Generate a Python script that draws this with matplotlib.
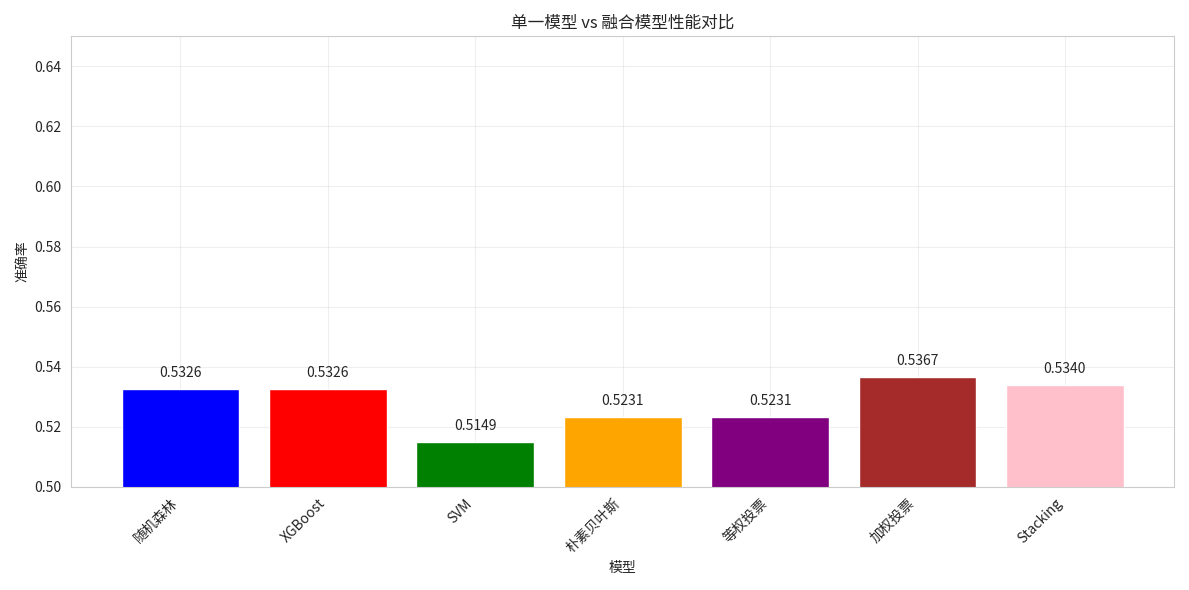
import matplotlib
matplotlib.use("Agg")
import matplotlib.pyplot as plt
import seaborn as sns

models = ["随机森林", "XGBoost", "SVM", "朴素贝叶斯", "等权投票", "加权投票", "Stacking"]
accuracy = [0.5326, 0.5326, 0.5149, 0.5231, 0.5231, 0.5367, 0.5340]
colors = ["blue", "red", "green", "orange", "purple", "brown", "pink"]

sns.set_style("whitegrid")
plt.rcParams["font.family"] = ["Noto Sans CJK SC", "DejaVu Sans"]

fig, ax = plt.subplots(figsize=(11.89, 5.9), dpi=100)
bars = ax.bar(models, accuracy, color=colors)
for bar, v in zip(bars, accuracy):
    ax.text(bar.get_x() + bar.get_width() / 2, v + 0.003, f"{v:.4f}",
            ha="center", va="bottom", fontsize=10)

ax.set_ylim(0.50, 0.65)
ax.set_title("单一模型 vs 融合模型性能对比", fontsize=12)
ax.set_xlabel("模型", fontsize=10)
ax.set_ylabel("准确率", fontsize=10)
ax.grid(True, alpha=0.3)
plt.xticks(rotation=45, ha="right")
plt.tight_layout()
plt.savefig("out.png")
